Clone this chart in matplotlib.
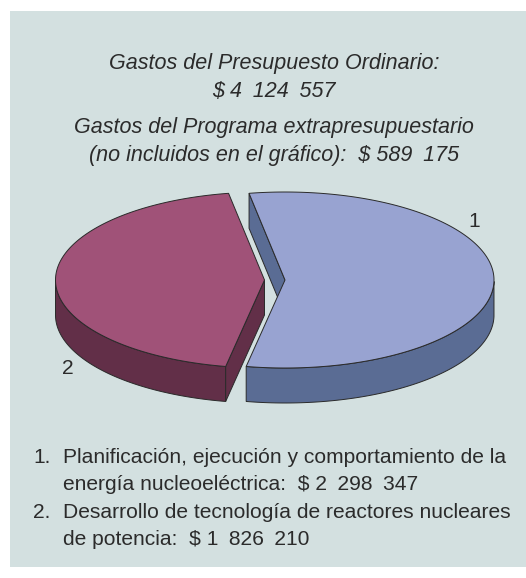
import numpy as np
import matplotlib
matplotlib.use('Agg')
import matplotlib.pyplot as plt
from matplotlib.patches import Polygon, Rectangle

plt.rcParams['font.family'] = ['Liberation Sans', 'DejaVu Sans']

labels = ['1', '2']
values = [2298347, 1826210]

# en spaces inside the amounts, they are set wide in the reference
title_lines = ['Gastos del Presupuesto Ordinario:', '$ 4\u2002124\u2002557',
               'Gastos del Programa extrapresupuestario',
               '(no incluidos en el gráfico):  $ 589\u2002175']
legend_lines = ['Planificación, ejecución y comportamiento de la',
                'energía nucleoeléctrica:  $ 2\u2002298\u2002347',
                'Desarrollo de tecnología de reactores nucleares',
                'de potencia:  $ 1\u2002826\u2002210']

top_colors = ['#98A3D1', '#A05278']
side_colors = ['#5A6C94', '#622F48']
edge = '#2A2A2A'
bg = '#D3E0E0'
text_col = '#2B2B2B'

fig = plt.figure(figsize=(5.26, 5.78), dpi=100)
ax = fig.add_axes([0, 0, 1, 1])
ax.set_xlim(0, 526)
ax.set_ylim(578, 0)
ax.axis('off')
ax.add_patch(Rectangle((10, 11), 516, 556, fc=bg, ec='none'))

# squashed pie, y is in pixels going down
a = 209
b = 88
depth = 35
cy = 280
apex_x = [285, 264.5]

sweep = 360 * np.array(values) / sum(values)
centre_angle = [-0.4, 179.6]


def pt(cx, ang, dy=0):
    ang = np.radians(ang)
    return np.column_stack([cx + a * np.cos(ang), cy - b * np.sin(ang) + dy])


for i in range(2):
    cx = apex_x[i]
    a0 = centre_angle[i] - sweep[i] / 2
    a1 = centre_angle[i] + sweep[i] / 2
    angs = np.linspace(a0, a1, 200)
    rim = pt(cx, angs)
    # outer wall, only the part facing front
    front = angs[np.sin(np.radians(angs)) <= 0]
    wall = np.vstack([pt(cx, front), pt(cx, front, depth)[::-1]])
    ax.add_patch(Polygon(wall, closed=True, fc=side_colors[i], ec=edge, lw=0.7, zorder=2))
    # cut face, the a0 one is hidden behind the slice
    p = pt(cx, [a1])[0]
    face = [p, (cx, cy), (cx, cy + depth), (p[0], p[1] + depth)]
    ax.add_patch(Polygon(face, closed=True, fc=side_colors[i], ec=edge, lw=0.7, zorder=2))
    top = np.vstack([[cx, cy], rim])
    ax.add_patch(Polygon(top, closed=True, fc=top_colors[i], ec=edge, lw=0.7, zorder=3))

fs_title = 15.5
fs = 15.1
for txt, y in zip(title_lines, [69, 97, 133, 161]):
    ax.text(274, y, txt, ha='center', va='baseline', style='italic', fontsize=fs_title, color=text_col)

ax.text(474, 227, labels[0], ha='center', va='baseline', fontsize=fs, color=text_col)
ax.text(68, 374, labels[1], ha='center', va='baseline', fontsize=fs, color=text_col)

ax.text(33, 463, labels[0] + '.', va='baseline', fontsize=fs, color=text_col)
ax.text(63, 463, legend_lines[0], va='baseline', fontsize=fs, color=text_col)
ax.text(63, 490, legend_lines[1], va='baseline', fontsize=fs, color=text_col)
ax.text(33, 518, labels[1] + '.', va='baseline', fontsize=fs, color=text_col)
ax.text(63, 518, legend_lines[2], va='baseline', fontsize=fs, color=text_col)
ax.text(63, 545, legend_lines[3], va='baseline', fontsize=fs, color=text_col)

fig.savefig('out.png', dpi=100)
